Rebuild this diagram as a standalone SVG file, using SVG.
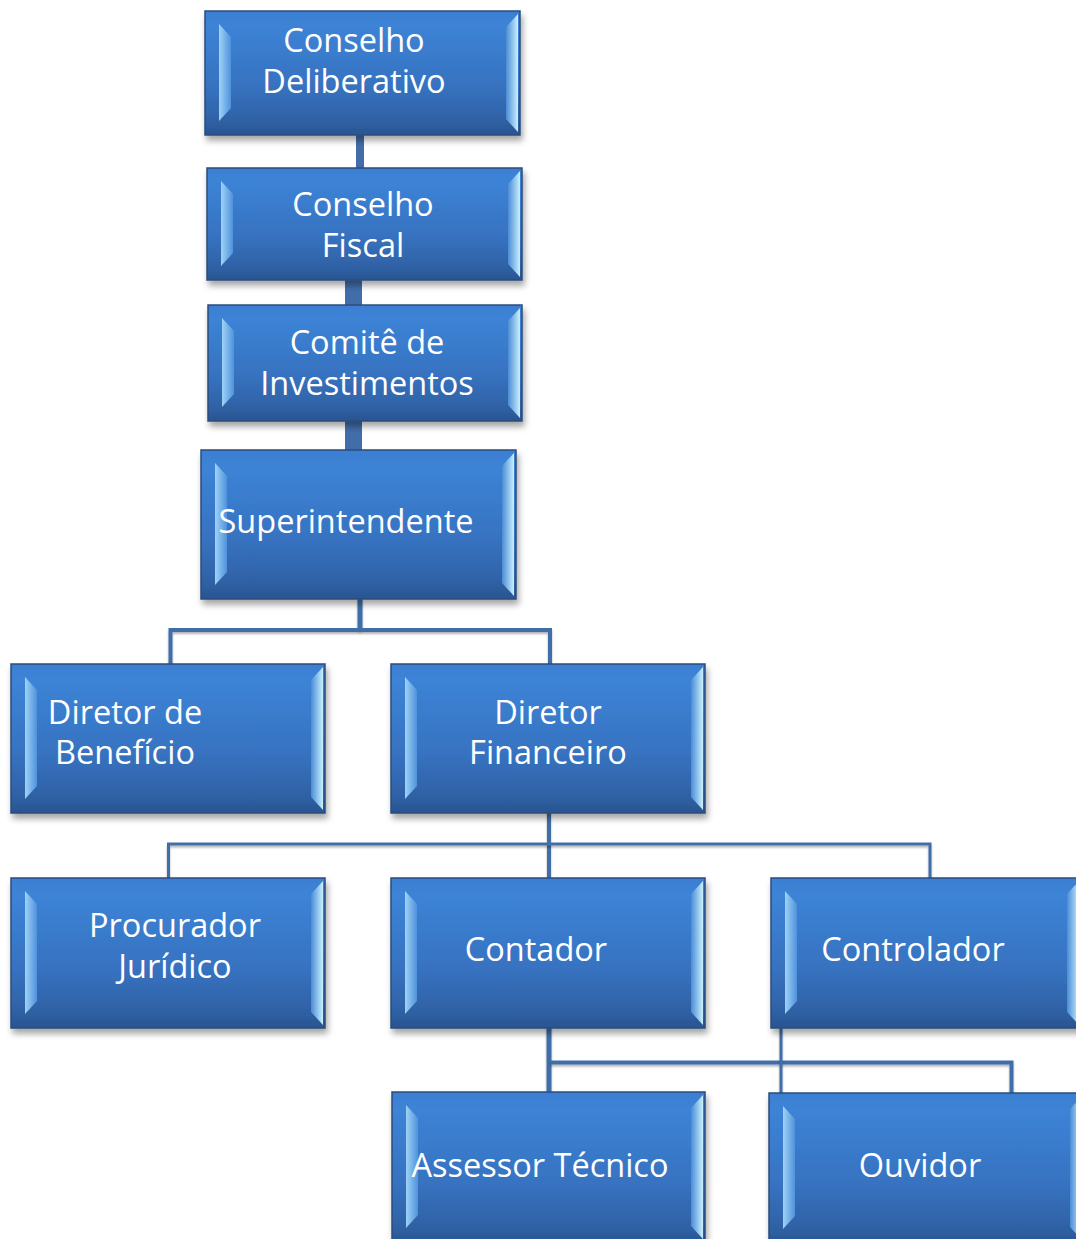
<svg xmlns="http://www.w3.org/2000/svg" width="1076" height="1239" viewBox="0 0 1076 1239">
<defs>
<linearGradient id="gFill" x1="0" y1="0" x2="0" y2="1">
<stop offset="0" stop-color="#3b7fd2"/>
<stop offset="0.12" stop-color="#3c83d6"/>
<stop offset="0.6" stop-color="#3772c0"/>
<stop offset="0.88" stop-color="#2f62a6"/>
<stop offset="1" stop-color="#2a5490"/>
</linearGradient>
<linearGradient id="gLeft" x1="0" y1="0" x2="1" y2="0">
<stop offset="0" stop-color="#9fd3f6"/>
<stop offset="1" stop-color="#4f92dc"/>
</linearGradient>
<linearGradient id="gRight" x1="0" y1="0" x2="1" y2="0">
<stop offset="0" stop-color="#4a8cd6"/>
<stop offset="1" stop-color="#c8f0fe"/>
</linearGradient>
<filter id="shadow" x="-10%" y="-10%" width="120%" height="130%">
<feDropShadow dx="2" dy="5" stdDeviation="3" flood-color="#000" flood-opacity="0.35"/>
</filter>
<filter id="lshadow" filterUnits="userSpaceOnUse" x="0" y="0" width="1076" height="1239">
<feDropShadow dx="0" dy="2" stdDeviation="1.2" flood-color="#000" flood-opacity="0.3"/>
</filter>
</defs>
<style>
.box{fill:url(#gFill);stroke:#2b4c7c;stroke-width:1.5;filter:url(#shadow)}
.bl{fill:url(#gLeft)}
.br{fill:url(#gRight)}
.t{font-family:"Open Sans","Liberation Sans",sans-serif;font-size:32.5px;fill:#ffffff;text-anchor:middle}
.c{fill:#416ea9}
.ln{stroke:#416ea9;fill:none;filter:url(#lshadow)}
</style>
<rect width="1076" height="1239" fill="#ffffff"/>
<g id="connectors">
<rect class="c" x="356" y="130" width="8" height="42"/>
<rect class="c" x="345" y="276" width="17" height="33"/>
<rect class="c" x="345" y="417" width="17" height="37"/>
<line class="ln" x1="360" y1="598" x2="360" y2="630" stroke-width="5"/>
<polyline class="ln" points="170.5,666 170.5,630 550,630 550,666" stroke-width="4"/>
<line class="ln" x1="549" y1="810" x2="549" y2="880" stroke-width="4"/>
<polyline class="ln" points="168.5,880 168.5,844 930,844 930,880" stroke-width="3"/>
<line class="ln" x1="549" y1="1026" x2="549" y2="1094" stroke-width="5"/>
<polyline class="ln" points="551,1062.5 1011.5,1062.5 1011.5,1094" stroke-width="4"/>
<line class="ln" x1="781" y1="1028" x2="781" y2="1095" stroke-width="3"/>
</g>
<g id="conselho-deliberativo">
<rect class="box" x="205" y="11" width="315" height="124"/>
<polygon class="bl" points="219,24 231,37 231,108 219,121"/>
<polygon class="br" points="518,14 506,27 506,119 518,132"/>
<text class="t" x="354" y="52">Conselho</text>
<text class="t" x="354" y="93">Deliberativo</text>
</g>
<g id="conselho-fiscal">
<rect class="box" x="207" y="168" width="315" height="112"/>
<polygon class="bl" points="221,181 233,194 233,253 221,266"/>
<polygon class="br" points="520,171 508,184 508,264 520,277"/>
<text class="t" x="363" y="216">Conselho</text>
<text class="t" x="363" y="257">Fiscal</text>
</g>
<g id="comite-investimentos">
<rect class="box" x="208" y="305" width="314" height="116"/>
<polygon class="bl" points="222,318 234,331 234,394 222,407"/>
<polygon class="br" points="520,308 508,321 508,405 520,418"/>
<text class="t" x="367" y="354">Comitê de</text>
<text class="t" x="367" y="395">Investimentos</text>
</g>
<g id="superintendente">
<rect class="box" x="201" y="450" width="315" height="149"/>
<polygon class="bl" points="215,463 227,476 227,572 215,585"/>
<polygon class="br" points="514,453 502,466 502,583 514,596"/>
<text class="t" x="346" y="533">Superintendente</text>
</g>
<g id="diretor-beneficio">
<rect class="box" x="11" y="664" width="314" height="149"/>
<polygon class="bl" points="25,677 37,690 37,786 25,799"/>
<polygon class="br" points="323,667 311,680 311,797 323,810"/>
<text class="t" x="125" y="724">Diretor de</text>
<text class="t" x="125" y="764">Benefício</text>
</g>
<g id="diretor-financeiro">
<rect class="box" x="391" y="664" width="314" height="149"/>
<polygon class="bl" points="405,677 417,690 417,786 405,799"/>
<polygon class="br" points="703,667 691,680 691,797 703,810"/>
<text class="t" x="548" y="724">Diretor</text>
<text class="t" x="548" y="764">Financeiro</text>
</g>
<g id="procurador-juridico">
<rect class="box" x="11" y="878" width="314" height="150"/>
<polygon class="bl" points="25,891 37,904 37,1001 25,1014"/>
<polygon class="br" points="323,881 311,894 311,1012 323,1025"/>
<text class="t" x="175" y="937">Procurador</text>
<text class="t" x="175" y="978">Jurídico</text>
</g>
<g id="contador">
<rect class="box" x="391" y="878" width="314" height="150"/>
<polygon class="bl" points="405,891 417,904 417,1001 405,1014"/>
<polygon class="br" points="703,881 691,894 691,1012 703,1025"/>
<text class="t" x="536" y="961">Contador</text>
</g>
<g id="controlador">
<rect class="box" x="771" y="878" width="310" height="150"/>
<polygon class="bl" points="785,891 797,904 797,1001 785,1014"/>
<polygon class="br" points="1079,881 1067,894 1067,1012 1079,1025"/>
<text class="t" x="913" y="961">Controlador</text>
</g>
<g id="assessor-tecnico">
<rect class="box" x="392" y="1092" width="313" height="152"/>
<polygon class="bl" points="406,1105 418,1118 418,1215 406,1228"/>
<polygon class="br" points="703,1095 691,1108 691,1226 703,1239"/>
<text class="t" x="540" y="1177">Assessor Técnico</text>
</g>
<g id="ouvidor">
<rect class="box" x="769" y="1093" width="315" height="152"/>
<polygon class="bl" points="783,1106 795,1119 795,1216 783,1229"/>
<polygon class="br" points="1082,1096 1070,1109 1070,1227 1082,1240"/>
<text class="t" x="920" y="1177">Ouvidor</text>
</g>
</svg>
